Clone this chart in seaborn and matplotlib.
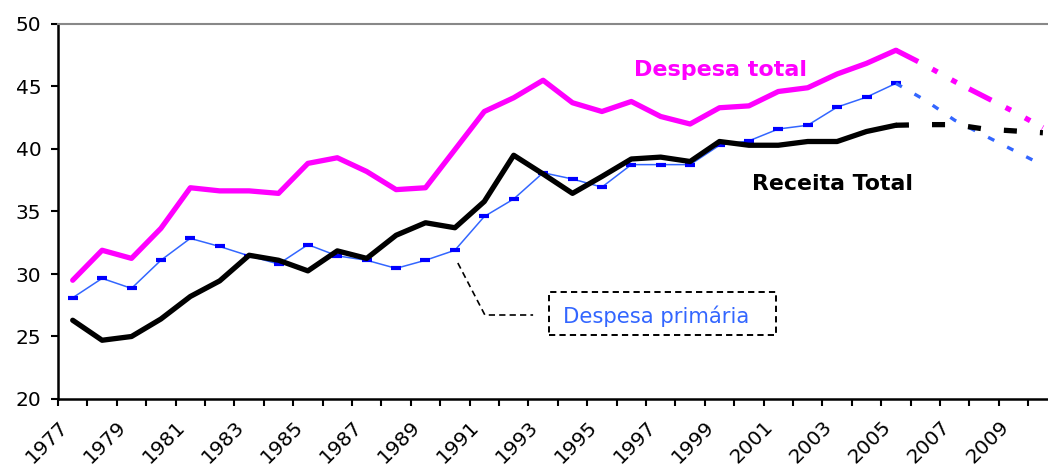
import numpy as np
import pandas as pd
import matplotlib
matplotlib.use("Agg")
import matplotlib.pyplot as plt
from matplotlib.patches import Rectangle
import seaborn as sns

sns.set_theme(style="white")
plt.rcParams['font.family'] = ['DejaVu Sans']
plt.rcParams['lines.scale_dashes'] = False

# dados (% do PIB), 1977-2010; a partir de 2005 projeção
anos = list(range(1977, 2011))
despesa_total = [29.5, 31.9, 31.25, 33.65, 36.9, 36.65, 36.65, 36.45, 38.85, 39.3,
                 38.2, 36.75, 36.9, 39.95, 43.0, 44.1, 45.5, 43.7, 43.0, 43.8,
                 42.6, 42.0, 43.3, 43.45, 44.6, 44.9, 46.0, 46.85, 47.9,
                 46.7, 45.4, 44.2, 43.0, 41.7]
despesa_primaria = [28.1, 29.65, 28.85, 31.1, 32.85, 32.2, 31.45, 30.8, 32.35, 31.45,
                    31.1, 30.45, 31.1, 31.9, 34.6, 36.0, 38.1, 37.6, 36.95, 38.75,
                    38.75, 38.75, 40.3, 40.65, 41.6, 41.9, 43.35, 44.15, 45.25,
                    43.9, 42.3, 41.1, 39.9, 38.7]
receita_total = [26.3, 24.7, 25.0, 26.4, 28.2, 29.45, 31.5, 31.1, 30.25, 31.85,
                 31.25, 33.1, 34.1, 33.7, 35.8, 39.5, 38.0, 36.45, 37.8, 39.2,
                 39.35, 39.0, 40.6, 40.3, 40.3, 40.6, 40.6, 41.4, 41.9,
                 41.95, 41.95, 41.6, 41.45, 41.3]
ano_corte = 2005

df = pd.DataFrame({'ano': anos, 'pos': np.arange(len(anos)),
                   'total': despesa_total, 'primaria': despesa_primaria,
                   'receita': receita_total})
hist = df[df['ano'] <= ano_corte]
proj = df[df['ano'] >= ano_corte]

ROSA = '#FF00FF'
AZUL = '#3366FF'
AZUL_MARC = '#0000FF'

fig = plt.figure(figsize=(10.48, 4.68), dpi=100)
ax = fig.add_axes([58 / 1048, 69 / 468, 999.6 / 1048, 375 / 468])

# parte histórica
sns.lineplot(data=hist, x='pos', y='total', ax=ax, color=ROSA, lw=3.8)
sns.lineplot(data=hist, x='pos', y='primaria', ax=ax, color=AZUL, lw=1.1,
             marker='_', markersize=7, markeredgewidth=3,
             markeredgecolor=AZUL_MARC, markerfacecolor=AZUL_MARC)
sns.lineplot(data=hist, x='pos', y='receita', ax=ax, color='black', lw=3.8)

# projeção (tracejada)
sns.lineplot(data=proj, x='pos', y='total', ax=ax, color=ROSA, lw=3.8,
             linestyle=(0, (18, 11.5, 4.3, 11.5, 4.3, 10)))
sns.lineplot(data=proj, x='pos', y='primaria', ax=ax, color=AZUL, lw=2.4,
             linestyle=(0, (5, 10.4)))
sns.lineplot(data=proj, x='pos', y='receita', ax=ax, color='black', lw=3.8,
             linestyle=(0, (9.4, 16.6)))

# eixos
ax.set_xlim(-0.5, len(anos) - 0.5)
ax.set_ylim(20, 50)
ax.set_yticks(range(20, 51, 5))
ax.set_xticks(np.arange(len(anos)) - 0.5)
ax.set_xticklabels([str(a) if i % 2 == 0 else '' for i, a in enumerate(anos)])
ax.tick_params(axis='y', labelsize=14.5, length=5, width=1.5, pad=7, colors='black',
               left=True, direction='out')
ax.tick_params(axis='x', labelsize=14.5, length=5, width=1.5, pad=8, colors='black',
               bottom=True, direction='out')
plt.setp(ax.get_xticklabels(), rotation=45, ha='right', va='top', rotation_mode='anchor')
ax.set_xlabel('')
ax.set_ylabel('')
for lado in ['left', 'bottom']:
    ax.spines[lado].set_color('black')
    ax.spines[lado].set_linewidth(1.8)
ax.spines['right'].set_visible(False)
ax.spines['top'].set_color('#888888')
ax.spines['top'].set_linewidth(1.5)

# rótulos das séries
ax.text(22.05, 46.3, 'Despesa total', color=ROSA, fontsize=16, fontweight='bold',
        ha='center', va='center')
ax.text(25.86, 37.2, 'Receita Total', color='black', fontsize=15.8, fontweight='bold',
        ha='center', va='center')
ax.add_patch(Rectangle((16.2, 25.12), 7.72, 3.44, fill=False, ec='black',
                       lw=1.4, ls=(0, (4.5, 3))))
ax.text(19.85, 26.6, 'Despesa primária', color=AZUL, fontsize=15.2,
        ha='center', va='center')
ax.plot([13.1, 14.02, 15.66], [30.88, 26.72, 26.72], color='black', lw=1.2,
        ls=(0, (4.5, 3)))

fig.savefig('out.png', dpi=100)
